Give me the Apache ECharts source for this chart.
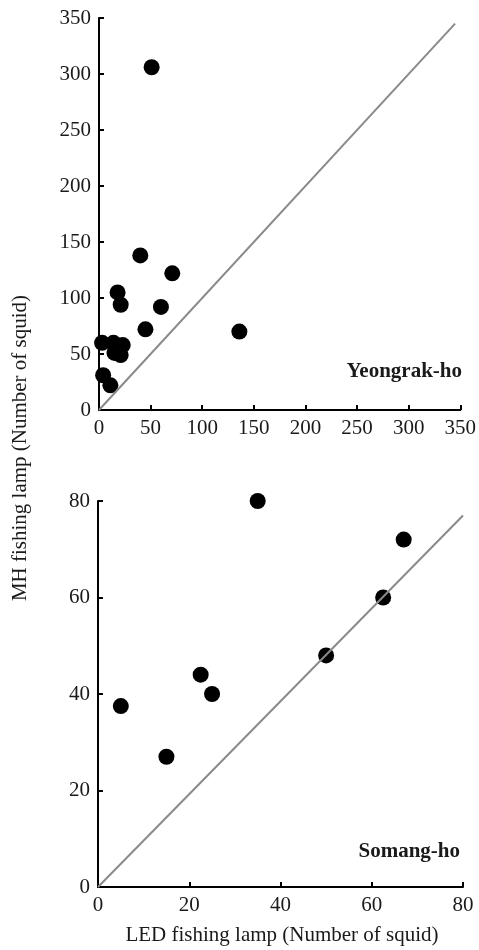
<!DOCTYPE html>
<html>
<head>
<meta charset="utf-8">
<script src="https://cdn.jsdelivr.net/npm/echarts@6/dist/echarts.min.js"></script>
<style>
  html, body { margin: 0; padding: 0; background: #fff; }
  #chart { width: 479px; height: 950px; }
</style>
</head>
<body>
<div id="chart"></div>
<script>
// Yeongrak-ho: [LED, MH]
var yeongrakPoints = [
    [51, 306], [40, 138], [71, 122], [18, 105], [21, 94], [60, 92],
    [45, 72], [3, 60], [14, 60], [23, 58], [15, 51], [21, 49],
    [4, 31], [11, 22], [136, 70]
];
// Somang-ho: [LED, MH]
var somangPoints = [
    [35, 80], [67, 72], [62.5, 60], [50, 48], [22.5, 44], [25, 40],
    [5, 37.5], [15, 27]
];
var yeongrakLine = [[0, 0], [345, 345]];
var somangLine = [[0, 0], [80, 77]];

var fontFam = '"Liberation Serif", "Times New Roman", serif';

var chart = echarts.init(document.getElementById('chart'));

function axis(gridIndex, max, interval) {
    return {
        type: 'value',
        gridIndex: gridIndex,
        min: 0,
        max: max,
        interval: interval,
        splitLine: { show: false },
        axisLine: { show: true, lineStyle: { color: '#000', width: 2 } },
        axisTick: { show: true, inside: true, length: 5, lineStyle: { color: '#000', width: 2 } },
        axisLabel: { color: '#1a1a1a', fontFamily: fontFam, fontSize: 21, margin: 8 }
    };
}

var option = {
    backgroundColor: '#fff',
    animation: false,
    grid: [
        { left: 99, top: 18, width: 364, height: 392 },
        { left: 98, top: 501, width: 365, height: 386 }
    ],
    xAxis: [axis(0, 350, 50), axis(1, 80, 20)],
    yAxis: [axis(0, 350, 50), axis(1, 80, 20)],
    graphic: [
        {
            type: 'text',
            rotation: Math.PI / 2,
            position: [20, 448],
            style: { text: 'MH fishing lamp (Number of squid)', fill: '#1a1a1a', font: '21px ' + fontFam, align: 'center', verticalAlign: 'middle' }
        },
        {
            type: 'text',
            position: [282, 935],
            style: { text: 'LED fishing lamp (Number of squid)', fill: '#1a1a1a', font: '21px ' + fontFam, align: 'center', verticalAlign: 'middle' }
        },
        {
            type: 'text',
            position: [462, 372],
            style: { text: 'Yeongrak-ho', fill: '#1a1a1a', font: 'bold 21px ' + fontFam, align: 'right', verticalAlign: 'middle' }
        },
        {
            type: 'text',
            position: [460, 852],
            style: { text: 'Somang-ho', fill: '#1a1a1a', font: 'bold 21px ' + fontFam, align: 'right', verticalAlign: 'middle' }
        }
    ],
    series: [
        {
            type: 'line', xAxisIndex: 0, yAxisIndex: 0,
            data: yeongrakLine, symbol: 'none',
            lineStyle: { color: '#8a8a8a', width: 2 }
        },
        {
            type: 'scatter', xAxisIndex: 0, yAxisIndex: 0,
            data: yeongrakPoints, symbolSize: 16,
            itemStyle: { color: '#000', opacity: 1 }
        },
        {
            type: 'line', xAxisIndex: 1, yAxisIndex: 1,
            data: somangLine, symbol: 'none',
            lineStyle: { color: '#8a8a8a', width: 2 }
        },
        {
            type: 'scatter', xAxisIndex: 1, yAxisIndex: 1,
            data: somangPoints, symbolSize: 16,
            itemStyle: { color: '#000', opacity: 1 }
        }
    ]
};

chart.setOption(option);
</script>
</body>
</html>
